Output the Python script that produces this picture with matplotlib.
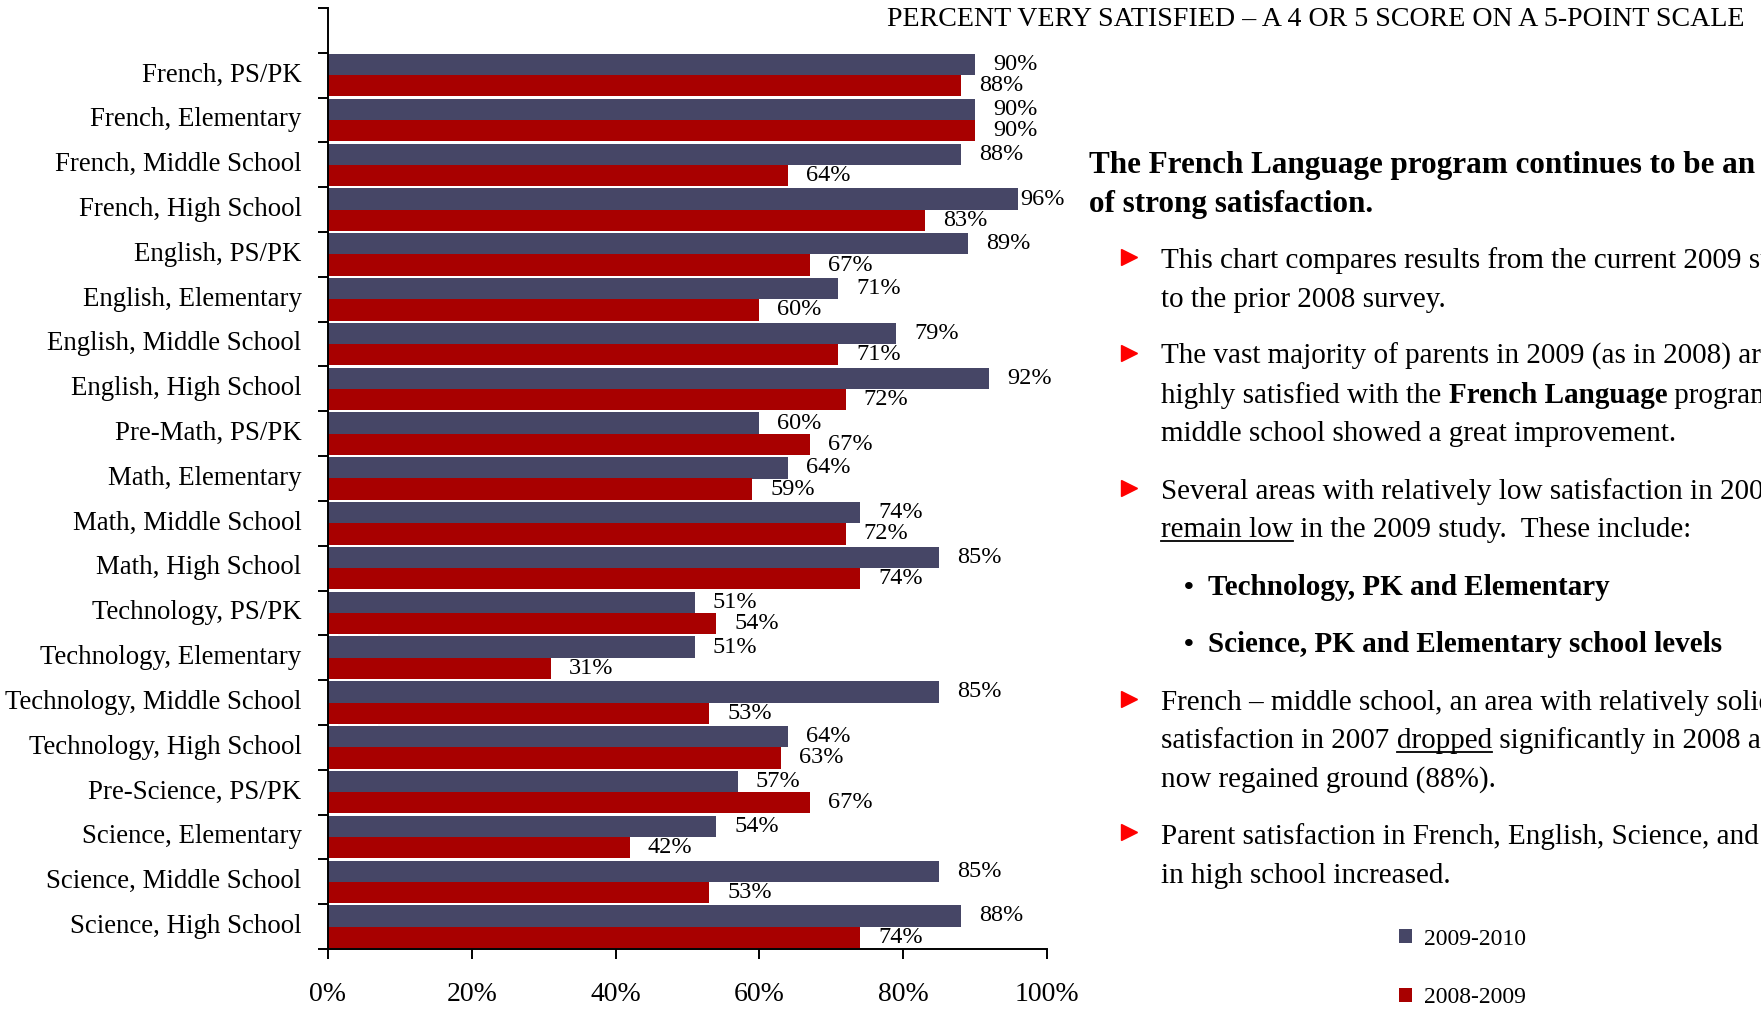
"""
Parent satisfaction by subject and school level, 2009-2010 vs 2008-2009.
"""

import matplotlib

matplotlib.use("Agg")
import matplotlib.pyplot as plt
import numpy as np
from matplotlib.lines import Line2D

# ---- data -------------------------------------------------------------
categories = [
    "French, PS/PK",
    "French, Elementary",
    "French, Middle School",
    "French, High School",
    "English, PS/PK",
    "English, Elementary",
    "English, Middle School",
    "English, High School",
    "Pre-Math, PS/PK",
    "Math, Elementary",
    "Math, Middle School",
    "Math, High School",
    "Technology, PS/PK",
    "Technology, Elementary",
    "Technology, Middle School",
    "Technology, High School",
    "Pre-Science, PS/PK",
    "Science, Elementary",
    "Science, Middle School",
    "Science, High School",
]
pct_2009 = [90, 90, 88, 96, 89, 71, 79, 92, 60, 64, 74, 85, 51, 51, 85, 64, 57, 54, 85, 88]
pct_2008 = [88, 90, 64, 83, 67, 60, 71, 72, 67, 59, 72, 74, 54, 31, 53, 63, 67, 42, 53, 74]
series_names = ["2009-2010", "2008-2009"]
x_ticks = [0, 20, 40, 60, 80, 100]

title = "PERCENT VERY SATISFIED \u2013 A 4 OR 5 SCORE ON A 5-POINT SCALE"

# each line is a list of runs: (text, style) with style "n", "b" or "u"
heading = [
    [("The French Language program continues to be an area", "b")],
    [("of strong satisfaction.", "b")],
]
bullets = [
    [
        [("This chart compares results from the current 2009 survey", "n")],
        [("to the prior 2008 survey.", "n")],
    ],
    [
        [("The vast majority of parents in 2009 (as in 2008) are", "n")],
        [("highly satisfied with the ", "n"), ("French Language", "b"), (" program, and", "n")],
        [("middle school showed a great improvement.", "n")],
    ],
    [
        [("Several areas with relatively low satisfaction in 2008", "n")],
        [("remain low", "u"), (" in the 2009 study.  These include:", "n")],
    ],
    [
        [("French \u2013 middle school, an area with relatively solid", "n")],
        [("satisfaction in 2007 ", "n"), ("dropped", "u"), (" significantly in 2008 and", "n")],
        [("now regained ground (88%).", "n")],
    ],
    [
        [("Parent satisfaction in French, English, Science, and Math", "n")],
        [("in high school increased.", "n")],
    ],
]
sub_bullets = ["Technology, PK and Elementary", "Science, PK and Elementary school levels"]

# ---- style ------------------------------------------------------------
BLUE = "#464666"
RED = "#A80000"
ARROW = "#FF0000"
plt.rcParams["font.family"] = ["Liberation Serif", "DejaVu Serif"]

W, H = 1761, 1011
fig = plt.figure(figsize=(W / 100, H / 100), dpi=100)
ax = fig.add_axes([328 / W, 1 - 949 / H, (1047 - 328) / W, (949 - 8) / H])

# ---- bars -------------------------------------------------------------
n = len(categories)
slots = n + 1  # one empty slot above the first category
centers = slots - 1.5 - np.arange(n)
bar_h = 0.475

ax.barh(centers + bar_h / 2, pct_2009, height=bar_h, color=BLUE, label=series_names[0])
ax.barh(centers - bar_h / 2, pct_2008, height=bar_h, color=RED, label=series_names[1])

for yc, a, b in zip(centers, pct_2009, pct_2008):
    for v, y in ((a, yc + bar_h / 2), (b, yc - bar_h / 2)):
        x = v + 2.5 if v < 95 else v + 0.3
        ax.text(x, y, f"{v}%", va="center", ha="left", fontsize=17.5, clip_on=False)

ax.set_xlim(0, 100)
ax.set_ylim(0, slots)
ax.set_xticks(x_ticks, [f"{t}%" for t in x_ticks], fontsize=20)
ax.set_yticks(centers + 0.07, categories, fontsize=19.4)
ax.set_yticks(np.arange(slots + 1), minor=True)
ax.tick_params(axis="y", which="major", length=0, pad=19)
ax.tick_params(axis="y", which="minor", length=7, width=1.4, direction="out")
ax.tick_params(axis="x", length=7, width=1.4, direction="out", pad=17)
for side in ("top", "right"):
    ax.spines[side].set_visible(False)
for side in ("left", "bottom"):
    ax.spines[side].set_linewidth(1.4)

fig.text(1553 / 1568, 1 - 17 / 900, title, fontsize=20.2, ha="right", va="center")

# ---- commentary -------------------------------------------------------
fig.canvas.draw()
renderer = fig.canvas.get_renderer()


def draw_runs(x, y, runs, size):
    """Draw a line of text runs side by side, starting at figure x, baseline y."""
    for text, style in runs:
        t = fig.text(
            x, y, text, fontsize=size, va="baseline", ha="left",
            fontweight="bold" if style == "b" else "normal",
        )
        bb = t.get_window_extent(renderer)
        if style == "u":
            yu = y - 4 / H
            fig.add_artist(
                Line2D([bb.x0 / W, bb.x1 / W], [yu, yu], color="black", lw=1.3,
                       transform=fig.transFigure)
            )
        x = bb.x1 / W


def sy(v):
    return 1 - v / 900


def sx(v):
    return v / 1568


for line, base in zip(heading, [154, 189]):
    draw_runs(sx(970), sy(base), line, 22.4)

bullet_lines = [[239, 273], [324, 359, 393], [444, 478], [632, 666, 700], [751, 786]]
for block, bases in zip(bullets, bullet_lines):
    fig.add_artist(
        Line2D([sx(1005)], [sy(bases[0] - 10)], marker=">", ms=12, color=ARROW,
               lw=0, transform=fig.transFigure)
    )
    for line, base in zip(block, bases):
        draw_runs(sx(1034), sy(base), line, 21)

for text, base in zip(sub_bullets, [530, 580]):
    fig.text(sx(1054), sy(base), "\u2022", fontsize=20, va="baseline", fontweight="bold")
    draw_runs(sx(1076), sy(base), [(text, "b")], 21)

handles, labels = ax.get_legend_handles_labels()
fig.legend(
    handles, labels, loc="upper left", bbox_to_anchor=(sx(1231), sy(812)),
    frameon=False, fontsize=17, handlelength=0.55, handleheight=0.55,
    handletextpad=0.5, labelspacing=1.6, borderpad=0.2,
)

fig.savefig("out.png", dpi=100)
